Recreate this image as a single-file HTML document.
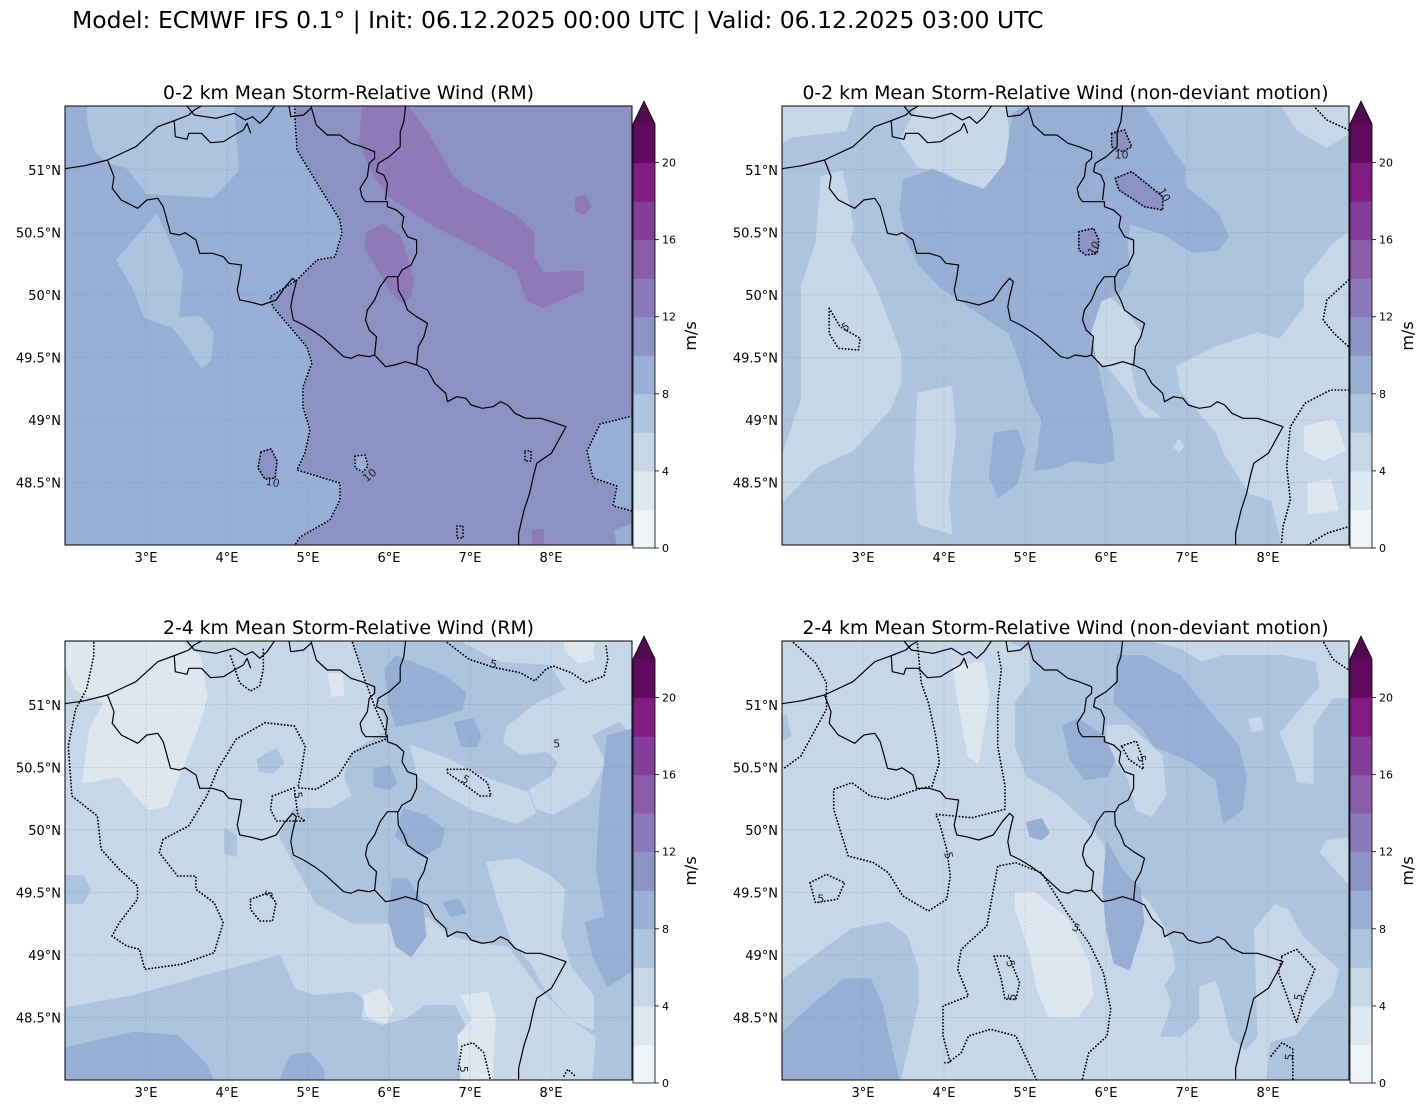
<!DOCTYPE html>
<html><head><meta charset="utf-8">
<style>
html,body{margin:0;padding:0;background:#fff;}
body{width:1428px;height:1109px;overflow:hidden;font-family:"DejaVu Sans","Liberation Sans",sans-serif;}
svg text{font-family:"DejaVu Sans","Liberation Sans",sans-serif;}
</style></head>
<body>
<svg id="fig" width="1428" height="1109" viewBox="0 0 1428 1109" xmlns="http://www.w3.org/2000/svg">
<text x="72" y="28" font-size="23.5" fill="#000">Model: ECMWF IFS 0.1° | Init: 06.12.2025 00:00 UTC | Valid: 06.12.2025 03:00 UTC</text>
<defs>
<clipPath id="mapclip"><rect x="0" y="0" width="567" height="439"/></clipPath>
</defs>
</svg>
<script>
// Colorbar data
const cbLevels = [0,2,4,6,8,10,12,14,16,18,20,22];
const cbColors = ["#edf3f7","#dde8f0","#c6d7e8","#aec5df","#99b0d6","#8b94c5","#8a7abb","#8b5ca9","#853d9c","#821b84","#620a5f"];
const cbTicks = [0,4,8,12,16,20];
const extendColor = "#520a50";
const lonTicks = [3,4,5,6,7,8];
const latTicks = [51,50.5,50,49.5,49,48.5];
const lonMin=2, lonMax=9, latTop=51.51, latBot=48.0;

const C2="#dce7f0",C4="#c6d7e8",C6="#adc4de",C8="#98afd5",C10="#8c93c4",C12="#8f79b8";
const NS="http://www.w3.org/2000/svg";
const fig=document.getElementById('fig');
function mk(tag,attrs,parent){const e=document.createElementNS(NS,tag);for(const k in attrs)e.setAttribute(k,attrs[k]);(parent||fig).appendChild(e);return e;}

const SX=0.3645, SY=0.33333;
const borderLines=[
"0,207 60,197 122,180 200,140 260,80 310,60 345,45 360,30 380,18",
"305,60 308,110 340,118 345,100 380,100 405,128 440,125 470,105 495,90 505,70 515,100",
"340,18 360,45 420,55 470,40 500,60 520,50 540,70 560,50 580,18",
"620,18 625,50 660,45 680,25",
"122,180 140,230 135,265 160,300 205,325 230,300 260,295 275,320 285,360 295,400 320,405 335,398 365,420 375,460 410,460 440,470 455,490 490,495 485,530 478,570 485,600 510,605 545,615 585,600 610,560 630,535 640,545 630,590 625,620 632,660 660,675 690,695 715,715 740,740 770,770 790,775 810,765 840,770 855,765",
"680,18 695,75 725,105 760,105 790,130 820,140 855,155 855,175 840,190 835,230 815,265 820,290 830,305 890,305 890,320 915,330 935,350 930,380 945,410 970,420 970,460 955,495 930,510 920,530 890,530",
"940,18 935,65 925,95 925,140 895,170 865,190 860,215 880,225 890,250 885,300",
"890,530 870,560 855,600 835,630 830,660 840,690 860,710 855,765 885,800 910,795 940,785 970,795 975,740 990,710 1000,670 970,650 945,630 935,600 920,570 918,530",
"970,795 1000,810 1020,850 1050,880 1055,905 1080,890 1105,895 1120,915 1150,925 1180,920 1200,905 1220,915 1240,940 1270,955 1310,955 1340,965 1380,980 1360,1020 1340,1060 1300,1090 1290,1130 1280,1180 1265,1230 1250,1300 1250,1340"
];

const panels=[
 {title:"0-2 km Mean Storm-Relative Wind (RM)",x:65,y:106,base:C10,sx:1,sy:1,ox:0,oy:0,
  fills:[
   [C8,[[0,0],[230,0],[230,11],[232,44],[252,77],[275,114],[277,127],[270,151],[252,154],[232,174],[205,191],[208,201],[225,221],[242,241],[247,257],[238,281],[238,301],[245,324],[240,347],[232,364],[275,377],[275,394],[265,414],[235,431],[230,439],[0,439]]],
   [C6,[[23,0],[168,0],[173,64],[148,91],[82,87],[62,61],[42,56],[30,44],[23,14]]],
   [C6,[[52,154],[92,109],[117,167],[113,212],[135,211],[148,227],[145,254],[137,261],[117,232],[108,221],[80,211],[68,181]]],
   [C8,[[567,310],[535,318],[522,345],[528,372],[552,380],[548,400],[567,405]]],
   [C8,[[567,418],[550,425],[553,439],[567,439]]],
   [C8,[[290,350],[300,349],[303,360],[298,366],[290,362]]],
   [C10,[[196,346],[206,343],[212,355],[210,372],[200,373],[193,362]]],
   [C12,[[298,0],[342,0],[362,27],[388,71],[398,81],[452,111],[468,127],[468,151],[478,167],[518,166],[518,184],[478,201],[462,194],[452,164],[412,141],[372,121],[325,91],[308,67],[295,37]]],
   [C12,[[302,127],[318,119],[335,131],[348,174],[345,191],[337,196],[325,184],[312,161],[300,141]]],
   [C12,[[511,92],[520,90],[525,100],[519,108],[511,104]]],
   [C12,[[468,424],[478,424],[478,439],[468,439]]]
  ],
  dots:[
   [[230,0],[230,11],[232,44],[252,77],[275,114],[277,127],[270,151],[252,154],[232,174],[205,191],[208,201],[225,221],[242,241],[247,257],[238,281],[238,301],[245,324],[240,347],[232,364],[275,377],[275,394],[265,414],[235,431],[230,439]],
   [[567,310],[535,318],[522,345],[528,372],[552,380],[548,400],[567,405]],
   [[290,350],[300,349],[303,360],[298,366],[290,362],[290,350]],
   [[196,346],[206,343],[212,355],[210,372],[200,373],[193,362],[196,346]],
   [[392,420],[398,420],[398,432],[392,432],[392,420]],
   [[460,345],[466,345],[466,355],[460,355],[460,345]]
  ],
  labels:[[207,380,"10",10],[307,372,"10",-40]]
 },
 {title:"0-2 km Mean Storm-Relative Wind (non-deviant motion)",x:782,y:106,base:C6,sx:SX,sy:SY,ox:-2,oy:-6,
  fills:[
   [C4,[[0,20],[200,20],[180,90],[30,110],[0,130]]],
   [C4,[[380,20],[620,20],[630,170],[590,270],[520,275],[460,215],[380,200],[330,120]]],
   [C4,[[115,230],[170,215],[200,380],[190,420],[260,560],[330,760],[330,850],[300,930],[240,1000],[200,1050],[100,1100],[10,1200],[10,1060],[60,900],[60,700],[60,560],[100,430]]],
   [C4,[[380,880],[470,860],[480,1000],[460,1200],[470,1300],[380,1270],[370,1100]]],
   [C4,[[1090,800],[1200,740],[1310,700],[1370,720],[1400,680],[1440,620],[1440,540],[1520,430],[1560,400],[1560,1340],[1380,1340],[1350,1200],[1290,1180],[1220,1060],[1200,1000],[1100,870]]],
   [C4,[[1380,20],[1560,20],[1560,100],[1500,140],[1420,90],[1390,40]]],
   [C4,[[830,620],[900,590],[950,640],[990,700],[960,800],[980,900],[1040,950],[1000,950],[960,880],[900,800],[850,760],[830,700]]],
   [C4,[[1080,1040],[1095,1020],[1105,1040],[1095,1055]]],
   [C2,[[1440,980],[1520,960],[1550,1050],[1490,1080],[1440,1050]]],
   [C2,[[1450,1150],[1510,1140],[1530,1230],[1450,1240]]],
   [C8,[[340,240],[420,210],[480,240],[560,270],[620,190],[640,40],[680,20],[1000,20],[1080,160],[1110,200],[1110,260],[1200,340],[1230,410],[1200,450],[1130,455],[1050,400],[960,370],[950,430],[960,520],[930,580],[880,600],[850,700],[870,800],[890,900],[910,1000],[915,1080],[880,1090],[800,1080],[760,1100],[700,1110],[710,1040],[720,960],[690,900],[660,790],[630,700],[520,620],[440,560],[380,490],[350,420],[330,330]]],
   [C8,[[590,1000],[650,990],[670,1050],[650,1150],[600,1190],[575,1130]]],
   [C10,[[910,100],[945,90],[965,140],[940,155],[910,140]]],
   [C10,[[920,235],[965,215],[1050,290],[1050,330],[1000,320],[930,270]]],
   [C10,[[820,395],[860,385],[875,420],[870,460],[840,465],[820,450]]]
  ],
  dots:[
   [[910,100],[945,90],[965,140],[940,155],[910,140],[910,100]],
   [[920,235],[965,215],[1050,290],[1050,330],[1000,320],[930,270],[920,235]],
   [[820,395],[860,385],[875,420],[870,460],[840,465],[820,450],[820,395]],
   [[135,625],[165,680],[220,715],[215,750],[160,745],[135,700],[135,625]],
   [[1560,540],[1500,600],[1490,660],[1520,700],[1560,740]],
   [[1560,870],[1510,870],[1440,910],[1400,980],[1390,1100],[1400,1200],[1380,1280],[1375,1340]],
   [[1440,1340],[1500,1300],[1560,1280]],
   [[1470,25],[1500,60],[1560,90]]
  ],
  labels:[[937,175,"10",0],[1045,290,"10",60],[870,450,"10",-60],[185,690,"5",-30]]
 },
 {title:"2-4 km Mean Storm-Relative Wind (RM)",x:65,y:641,base:C4,sx:SX,sy:SY,ox:-4,oy:-5,
  fills:[
   [C6,[[800,20],[1100,20],[1200,80],[1340,90],[1380,160],[1300,200],[1220,270],[1210,320],[1260,360],[1330,350],[1360,380],[1340,420],[1280,460],[1300,520],[1350,540],[1450,480],[1500,380],[1460,300],[1530,260],[1570,300],[1570,1340],[1460,1340],[1470,1200],[1400,1150],[1310,1050],[1230,930],[1150,920],[1080,900],[1050,880],[1010,840],[900,860],[800,860],[700,800],[650,700],[600,600],[640,520],[740,520],[800,480],[780,420],[800,350],[900,280],[870,200],[830,100]]],
   [C4,[[960,330],[1060,370],[1170,430],[1280,470],[1300,530],[1250,560],[1130,520],[1050,470],[980,420]]],
   [C6,[[0,1120],[200,1080],[430,1010],[600,960],[640,1060],[700,1080],[800,1070],[830,1090],[820,1150],[880,1170],[950,1150],[1000,1110],[1080,1110],[1120,1200],[1100,1340],[0,1340]]],
   [C6,[[0,720],[60,720],[80,760],[60,800],[0,800]]],
   [C6,[[450,580],[480,600],[480,660],[450,650]]],
   [C6,[[540,370],[590,340],[610,380],[580,410],[545,405]]],
   [C2,[[100,20],[330,20],[380,60],[400,180],[380,260],[330,400],[290,510],[240,520],[160,420],[60,440],[80,280],[120,200],[40,160],[10,80],[10,20]]],
   [C2,[[1380,20],[1460,20],[1460,70],[1420,80],[1390,50]]],
   [C2,[[735,115],[770,115],[775,175],[745,180]]],
   [C2,[[830,1080],[880,1060],[910,1120],[890,1160],[840,1140]]],
   [C2,[[1100,1080],[1170,1070],[1190,1150],[1180,1340],[1100,1340],[1090,1200],[1130,1150]]],
   [C4,[[1170,680],[1250,670],[1340,720],[1380,760],[1370,900],[1400,1000],[1460,1080],[1460,1180],[1400,1150],[1330,1060],[1290,980],[1240,920],[1200,800]]],
   [C8,[[920,60],[1050,120],[1110,170],[1100,220],[1010,250],[920,270],[900,200],[890,100]]],
   [C8,[[1080,260],[1130,250],[1150,300],[1140,330],[1100,330]]],
   [C8,[[860,400],[900,390],[920,440],[900,460],[860,450]]],
   [C8,[[940,520],[1000,540],[1050,580],[1040,630],[990,660],[960,640],[920,600]]],
   [C8,[[910,730],[950,730],[990,800],[1000,900],[960,960],[920,930],[900,850]]],
   [C8,[[1050,800],[1090,790],[1110,830],[1070,840]]],
   [C8,[[1500,300],[1570,280],[1570,900],[1500,880],[1470,700],[1480,500]]],
   [C8,[[1440,860],[1500,840],[1570,900],[1570,1000],[1500,1050],[1460,960]]],
   [C8,[[0,1240],[200,1190],[320,1200],[400,1290],[420,1340],[0,1340]]],
   [C8,[[600,1340],[630,1260],[680,1250],[720,1300],[720,1340]]]
  ],
  dots:[
   [[90,20],[90,60],[70,160],[40,220],[20,330],[30,480],[100,540],[110,640],[160,700],[210,750],[210,790],[160,860],[140,900],[180,930],[215,940],[230,1000],[330,985],[420,950],[445,860],[420,800],[370,760],[370,720],[320,720],[270,650],[280,610],[350,570],[400,480],[430,400],[480,310],[560,260],[640,270],[670,330],[660,400],[650,455],[700,460],[760,420],[800,350],[840,330],[890,310]],
   [[800,20],[830,120],[860,210],[880,260],[895,300]],
   [[465,60],[490,140],[520,165],[545,150],[555,100],[555,40]],
   [[580,480],[640,455],[650,540],[670,555],[590,555],[575,520],[580,480]],
   [[520,790],[570,770],[590,800],[580,855],[545,855],[520,820],[520,790]],
   [[1060,20],[1120,70],[1190,95],[1260,110],[1300,135],[1330,100],[1350,90],[1400,110],[1440,140],[1490,120],[1500,70],[1495,25]],
   [[1060,400],[1120,400],[1170,440],[1180,480],[1150,480],[1100,440],[1060,410],[1060,400]],
   [[1090,1300],[1100,1230],[1130,1220],[1160,1250],[1180,1340]],
   [[1380,1320],[1390,1300],[1410,1320]]
  ],
  labels:[[1185,95,"5",10],[1360,335,"5",0],[1105,440,"5",30],[640,480,"5",80],[580,780,"5",-60],[1095,1300,"5",90]]
 },
 {title:"2-4 km Mean Storm-Relative Wind (non-deviant motion)",x:782,y:641,base:C4,sx:SX,sy:SY,ox:-3,oy:-5,
  fills:[
   [C6,[[640,20],[690,40],[690,140],[650,200],[650,330],[680,420],[760,470],[850,560],[890,620],[920,700],[970,740],[1020,800],[1060,870],[1080,930],[1090,1000],[1060,1050],[1080,1100],[1050,1200],[1100,1200],[1150,1150],[1150,1050],[1200,1030],[1220,1100],[1240,1200],[1280,1240],[1310,1200],[1300,880],[1360,800],[1400,820],[1440,900],[1500,960],[1540,1000],[1520,1080],[1480,1120],[1420,1200],[1350,1220],[1340,1340],[1570,1340],[1570,760],[1480,650],[1500,610],[1570,600],[1570,190],[1520,190],[1470,270],[1470,450],[1420,440],[1400,370],[1370,290],[1410,240],[1480,150],[1470,80],[1380,60],[1220,60],[1160,80],[1100,40],[1020,20]]],
   [C4,[[900,270],[960,270],[1050,360],[1060,480],[1020,540],[980,520],[960,430],[900,340]]],
   [C4,[[1290,250],[1320,245],[1325,280],[1300,285]]],
   [C6,[[0,1040],[100,960],[200,880],[300,860],[350,900],[380,1000],[380,1100],[330,1340],[0,1340]]],
   [C6,[[0,240],[20,240],[30,300],[0,320]]],
   [C8,[[0,1200],[100,1100],[180,1030],[250,1030],[280,1100],[300,1200],[330,1340],[0,1340]]],
   [C2,[[480,90],[560,80],[575,180],[545,380],[520,360],[490,180]]],
   [C2,[[650,770],[700,770],[790,850],[850,980],[860,1080],[820,1140],[740,1140],[710,1060],[690,950],[650,820]]],
   [C8,[[930,60],[1000,60],[1100,120],[1160,200],[1260,330],[1280,420],[1270,520],[1220,560],[1200,430],[1120,370],[1030,330],[1000,280],[920,200]]],
   [C8,[[780,270],[820,250],[890,300],[920,370],[900,420],[840,430],[800,370]]],
   [C8,[[900,620],[940,700],[990,760],[1000,860],[960,1000],[920,980],[900,880],[890,760]]],
   [C8,[[680,560],[720,550],[740,590],[720,610],[690,600]]]
  ],
  dots:[
   [[40,20],[100,80],[130,140],[130,220],[100,280],[60,360],[10,400]],
   [[380,25],[390,140],[410,200],[430,300],[440,380],[420,450],[380,460],[300,490],[250,480],[200,440],[150,460],[150,520],[190,660],[260,680],[300,710],[340,780],[410,825],[460,790],[470,720],[460,640],[440,560],[430,535],[480,540],[530,545],[620,520],[620,450],[600,330],[600,200],[610,100],[600,40]],
   [[85,740],[130,715],[180,740],[160,790],[100,800],[85,740]],
   [[455,1280],[470,1280],[450,1200],[450,1110],[520,1080],[490,1000],[500,940],[570,870],[590,750],[600,690],[650,680],[720,710],[790,830],[850,920],[890,1010],[910,1120],[900,1200],[850,1250],[830,1340]],
   [[710,1340],[650,1200],[580,1180],[520,1200],[500,1250],[470,1275]],
   [[590,960],[630,960],[660,1040],[650,1090],[620,1090],[610,1030],[590,960]],
   [[1380,960],[1420,940],[1470,1000],[1440,1080],[1420,1160],[1390,1070],[1370,1010],[1380,960]],
   [[1350,1260],[1380,1220],[1410,1240],[1410,1340]],
   [[940,330],[980,315],[995,360],[1000,400],[960,370],[940,330]],
   [[1495,20],[1520,70],[1560,100]]
  ],
  labels:[[115,800,"5",0],[455,660,"5",80],[810,885,"5",30],[650,1085,"5",-80],[625,985,"5",80],[1435,1085,"5",-80],[1410,1265,"5",-80],[985,370,"5",80]]
 }
];

const W=567,H=439;
const xOf=lon=>(lon-lonMin)/(lonMax-lonMin)*W;
const yOf=lat=>(latTop-lat)/(latTop-latBot)*H;

panels.forEach((p,pi)=>{
  const T=pt=>[(pt[0]*p.sx+p.ox).toFixed(1),(pt[1]*p.sy+p.oy).toFixed(1)];
  const P=a=>a.map(pt=>T(pt).join(',')).join(' ');
  const g=mk('g',{transform:`translate(${p.x},${p.y})`});
  
  
  const t=mk('text',{x:W/2,y:-7,'font-size':18.8,'text-anchor':'middle',fill:'#000'},g);
  t.textContent=p.title;
  
  
  const inner=mk('g',{'clip-path':'url(#mapclip)'},g);
  mk('rect',{x:0,y:0,width:W,height:H,fill:p.base},inner);
  const fg=mk('g',{},inner);
  
  
  p.fills.forEach(f=>{
    mk('polygon',{points:P(f[1]),fill:f[0],stroke:f[0],'stroke-width':2,'stroke-linejoin':'round'},fg);
  });
  lonTicks.forEach(l=>{mk('line',{x1:xOf(l),x2:xOf(l),y1:0,y2:H,stroke:'#7a8a9a','stroke-width':0.5,'stroke-dasharray':'2,1.5',opacity:0.6},inner);});
  latTicks.forEach(l=>{mk('line',{x1:0,x2:W,y1:yOf(l),y2:yOf(l),stroke:'#7a8a9a','stroke-width':0.5,'stroke-dasharray':'2,1.5',opacity:0.6},inner);});
  const dg=mk('g',{},inner);
  
  
  p.dots.forEach(d=>{
    mk('polyline',{points:P(d),fill:'none',stroke:'#000','stroke-width':1.8,'stroke-dasharray':'0.1,3.2','stroke-linecap':'round','stroke-linejoin':'round'},dg);
  });
  p.labels.forEach(l=>{
    const q=T(l);
    const tx=mk('text',{x:q[0],y:q[1],'font-size':11,'text-anchor':'middle',fill:'#222',transform:`rotate(${l[3]},${q[0]},${q[1]})`},dg);
    tx.textContent=l[2];
    
    
  });
  const bg=mk('g',{fill:'none',stroke:'#000','stroke-width':1.2,'stroke-linejoin':'round'},inner);
  
  
  borderLines.forEach(s=>{
    const arr=s.split(' ').map(q=>q.split(',').map(Number));
    const out=arr.map(q=>[(q[0]*SX-2).toFixed(1),(q[1]*SY-6).toFixed(1)].join(',')).join(' ');
    mk('polyline',{points:out},bg);
  });
  mk('rect',{x:0,y:0,width:W,height:H,fill:'none',stroke:'#000','stroke-width':1},g);
  lonTicks.forEach(l=>{
    const tx=mk('text',{x:xOf(l),y:H+17,'font-size':13,'text-anchor':'middle',fill:'#000'},g);
    tx.textContent=l+'°E';
    
    
  });
  latTicks.forEach(l=>{
    const tx=mk('text',{x:-4,y:yOf(l)+5,'font-size':13,'text-anchor':'end',fill:'#000'},g);
    tx.textContent=l+'°N';
    
    
  });
  const cb=mk('g',{transform:`translate(${W+1},0)`},g);
  
  
  const cbBot=442, cbTop=18, cbW=22;
  const vmax=cbLevels[cbLevels.length-1];
  const cy=v=>cbBot-(v/vmax)*(cbBot-cbTop);
  for(let i=0;i<cbColors.length;i++){
    mk('rect',{x:0,y:cy(cbLevels[i+1]),width:cbW,height:cy(cbLevels[i])-cy(cbLevels[i+1])+0.5,fill:cbColors[i]},cb);
  }
  mk('polygon',{points:`0,${cbTop} ${cbW},${cbTop} ${cbW/2},${cbTop-23}`,fill:extendColor},cb);
  mk('polygon',{points:`0,${cbBot} 0,${cbTop} ${cbW/2},${cbTop-23} ${cbW},${cbTop} ${cbW},${cbBot}`,fill:'none',stroke:'#000','stroke-width':0.8},cb);
  cbTicks.forEach(v=>{
    mk('line',{x1:cbW,x2:cbW+4,y1:cy(v),y2:cy(v),stroke:'#000','stroke-width':0.8},cb);
    const tx=mk('text',{x:cbW+7,y:cy(v)+4,'font-size':11,fill:'#000'},cb);
    tx.textContent=v;
    
    
  });
  const ul=mk('text',{x:0,y:0,'font-size':16,'text-anchor':'middle',fill:'#000',transform:`translate(${cbW+41},${(cbTop+cbBot)/2}) rotate(-90)`},cb);
  ul.textContent='m/s';
  
  
});
</script>
</body></html>
